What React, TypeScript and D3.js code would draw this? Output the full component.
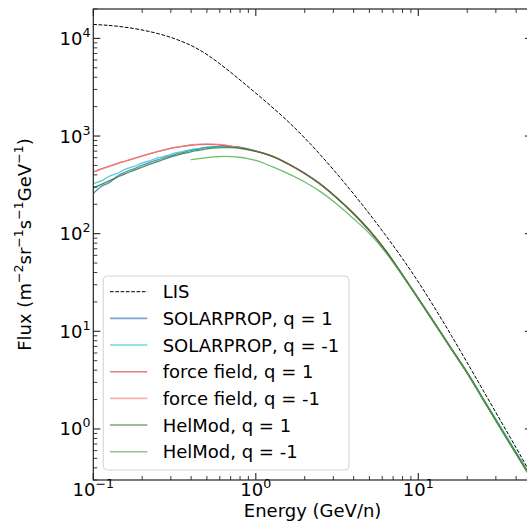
import React from 'react';
import * as d3 from 'd3';

const energies = [0.1, 0.112, 0.126, 0.141, 0.158, 0.178, 0.2, 0.224, 0.251, 0.282, 0.316, 0.355, 0.398, 0.447, 0.501, 0.562, 0.631, 0.708, 0.794, 0.891, 1.0,
  1.26, 1.58, 2.0, 2.51, 3.16, 3.98, 5.01, 6.31, 7.94, 10, 12.6, 15.8, 20, 25.1, 31.6, 39.8, 50];

const lisEnergies = [0.1, 0.15, 0.25, 0.4, 0.6, 1.0, 1.6, 2.5, 4.0, 6.3, 10, 16, 25, 40, 50];
const lis = [13900, 13150, 11200, 8450, 5500, 2750, 1380, 640, 255, 96, 32, 9.0, 2.5, 0.64, 0.33];

const solarpropPos = [258, 305, 335, 390, 428, 462, 503, 538, 572, 612, 645, 678, 712, 737, 763, 778, 787, 782, 770, 738, 703,
  621, 517, 412, 318, 230, 160, 106, 65.5, 37.8, 21.4, 12.0, 6.75, 3.74, 2.0, 1.07, 0.57, 0.31];

const solarpropNeg = [326, 348, 388, 416, 458, 488, 530, 560, 600, 630, 668, 694, 725, 744, 768, 777, 786, 780, 767, 737, 702,
  622, 519, 413, 319, 231, 161, 107, 66.5, 38.3, 21.7, 12.2, 6.9, 3.82, 2.06, 1.1, 0.59, 0.318];

const forceFieldPos = [428, 460, 492, 525, 555, 590, 625, 660, 695, 730, 760, 785, 805, 818, 822, 818, 805, 785, 760, 730, 700,
  622, 519, 413, 319, 232, 162, 108, 67, 38.5, 21.7, 12.1, 6.8, 3.75, 2.0, 1.06, 0.565, 0.305];

const forceFieldNeg = [426, 458, 490, 523, 553, 588, 623, 659, 695, 731, 763, 790, 812, 826, 830, 826, 812, 790, 763, 731, 700,
  621, 518, 412, 318, 231, 161, 107.5, 66.8, 38.4, 21.7, 12.1, 6.8, 3.75, 2.0, 1.06, 0.565, 0.305];

const helmodPos = [295, 320, 350, 380, 412, 445, 480, 515, 550, 590, 625, 660, 690, 715, 740, 755, 762, 760, 750, 725, 695,
  620, 520, 415, 320, 232, 162, 108, 67, 38.5, 21.7, 12.1, 6.8, 3.75, 2.0, 1.06, 0.565, 0.305];

const helmodNeg: (number | null)[] = [null, null, null, null, null, null, null, null, null, null, null, null, 572, 588, 602, 612, 618, 616, 606, 588, 562,
  485, 412, 338, 268, 200, 143, 100, 64, 38, 21.5, 12.0, 6.75, 3.72, 1.99, 1.05, 0.56, 0.30];

const seriesNames = ['LIS', 'SOLARPROP, q = 1', 'SOLARPROP, q = -1', 'force field, q = 1', 'force field, q = -1', 'HelMod, q = 1', 'HelMod, q = -1'];
const modulatedValues = [solarpropPos, solarpropNeg, forceFieldPos, forceFieldNeg, helmodPos, helmodNeg];
const seriesColors = ['#000000', '#1f68b4', '#17becf', '#d62728', '#f08080', '#1a6e1a', '#3da83a'];

const xMajor = [0.1, 1, 10];
const xMajorExp = ['\u22121', '0', '1'];
const yMajor = [1, 10, 100, 1000, 10000];
const yMajorExp = ['0', '1', '2', '3', '4'];

const W = 527, H = 522;
const L = 93.3, R = 531.9, T = 9, B = 480;

export default function App() {
  const x = d3.scaleLog().domain([0.1, 50]).range([L, R]);
  const y = d3.scaleLog().domain([0.3, 2e4]).range([B, T]);

  const xMinor: number[] = [];
  for (const d of [0.1, 1, 10]) for (let k = 2; k <= 9; k++) { const v = d * k; if (v <= 50) xMinor.push(v); }
  const yMinor: number[] = [];
  for (const d of [0.1, 1, 10, 100, 1000, 10000]) for (let k = 2; k <= 9; k++) { const v = d * k; if (v >= 0.3 && v <= 2e4) yMinor.push(v); }

  const lineGen = d3.line<[number, number]>().x(d => x(d[0])).y(d => y(d[1])).curve(d3.curveMonotoneX);
  const smoothGen = d3.line<[number, number]>().x(d => x(d[0])).y(d => y(d[1])).curve(d3.curveNatural);
  const pathFor = (vals: (number | null)[]) => {
    const pts: [number, number][] = [];
    vals.forEach((v, i) => { if (v != null) pts.push([energies[i], v]); });
    return lineGen(pts) || '';
  };
  const lisPath = smoothGen(lisEnergies.map((e, i) => [e, lis[i]] as [number, number])) || '';

  const axisColor = '#222';
  const font = 'DejaVu Sans, sans-serif';
  const fs = 18, fsSup = 12.6, sup = 8;
  const legX = 103.3, legY = 276, legW = 245.7, legH = 194;
  const rowY0 = 291.7, rowStep = 26.67;

  return (
    <svg width={W} height={H} style={{ position: 'absolute', left: 0, top: 0 }} fontFamily={font}>
      <rect x={0} y={0} width={W} height={H} fill="#fff" />
      <defs>
        <clipPath id="plotclip"><rect x={L} y={T} width={R - L} height={B - T} /></clipPath>
      </defs>
      <g clipPath="url(#plotclip)">
        <path d={lisPath} fill="none" stroke="#000" strokeWidth={1} strokeDasharray="3.7,1.6" />
        {modulatedValues.map((vals, i) => (
          <path key={i} d={pathFor(vals)} fill="none" stroke={seriesColors[i + 1]}
            strokeWidth={1.3} strokeOpacity={0.75} />
        ))}
      </g>
      <rect x={L} y={T} width={R - L} height={B - T} fill="none" stroke={axisColor} strokeWidth={1.2} />
      {xMajor.map(v => (
        <g key={'xM' + v}>
          <line x1={x(v)} x2={x(v)} y1={B} y2={B - 7} stroke={axisColor} strokeWidth={1.1} />
          <line x1={x(v)} x2={x(v)} y1={T} y2={T + 7} stroke={axisColor} strokeWidth={1.1} />
        </g>
      ))}
      {xMinor.map(v => (
        <g key={'xm' + v}>
          <line x1={x(v)} x2={x(v)} y1={B} y2={B - 4} stroke={axisColor} strokeWidth={0.9} />
          <line x1={x(v)} x2={x(v)} y1={T} y2={T + 4} stroke={axisColor} strokeWidth={0.9} />
        </g>
      ))}
      {yMajor.map(v => (
        <g key={'yM' + v}>
          <line x1={L} x2={L + 7} y1={y(v)} y2={y(v)} stroke={axisColor} strokeWidth={1.1} />
          <line x1={R} x2={R - 7} y1={y(v)} y2={y(v)} stroke={axisColor} strokeWidth={1.1} />
        </g>
      ))}
      {yMinor.map(v => (
        <g key={'ym' + v}>
          <line x1={L} x2={L + 4} y1={y(v)} y2={y(v)} stroke={axisColor} strokeWidth={0.9} />
          <line x1={R} x2={R - 4} y1={y(v)} y2={y(v)} stroke={axisColor} strokeWidth={0.9} />
        </g>
      ))}
      {xMajor.map((v, i) => (
        <text key={'xl' + v} x={x(v)} y={496} textAnchor="middle" fontSize={fs} fill="#000">
          10<tspan dy={-sup} fontSize={fsSup}>{xMajorExp[i]}</tspan>
        </text>
      ))}
      {yMajor.map((v, i) => (
        <text key={'yl' + v} x={90.5} y={y(v) + 6.5} textAnchor="end" fontSize={fs} fill="#000">
          10<tspan dy={-sup} fontSize={fsSup}>{yMajorExp[i]}</tspan>
        </text>
      ))}
      <text x={(L + R) / 2} y={516.5} textAnchor="middle" fontSize={fs} fill="#000">Energy (GeV/n)</text>
      <text transform={`translate(31,${(T + B) / 2}) rotate(-90)`} textAnchor="middle" fontSize={fs} fill="#000">
        Flux (m<tspan dy={-sup} fontSize={fsSup}>{'\u22122'}</tspan>
        <tspan dy={sup}>sr</tspan><tspan dy={-sup} fontSize={fsSup}>{'\u22121'}</tspan>
        <tspan dy={sup}>s</tspan><tspan dy={-sup} fontSize={fsSup}>{'\u22121'}</tspan>
        <tspan dy={sup}>GeV</tspan><tspan dy={-sup} fontSize={fsSup}>{'\u22121'}</tspan>
        <tspan dy={sup}>)</tspan>
      </text>
      <rect x={legX} y={legY} width={legW} height={legH} rx={4} ry={4} fill="#fff" fillOpacity={0.8} stroke="#d3d3d3" strokeWidth={1} />
      {seriesNames.map((name, i) => {
        const cy = rowY0 + i * rowStep;
        return (
          <g key={'lg' + i}>
            <line x1={110} x2={147.3} y1={cy} y2={cy} stroke={seriesColors[i]}
              strokeWidth={i === 0 ? 1 : 1.6} strokeOpacity={i === 0 ? 1 : 0.6}
              strokeDasharray={i === 0 ? '3.7,1.6' : undefined} />
            <text x={162.7} y={cy + 6.5} fontSize={fs} fill="#000">{name}</text>
          </g>
        );
      })}
    </svg>
  );
}
